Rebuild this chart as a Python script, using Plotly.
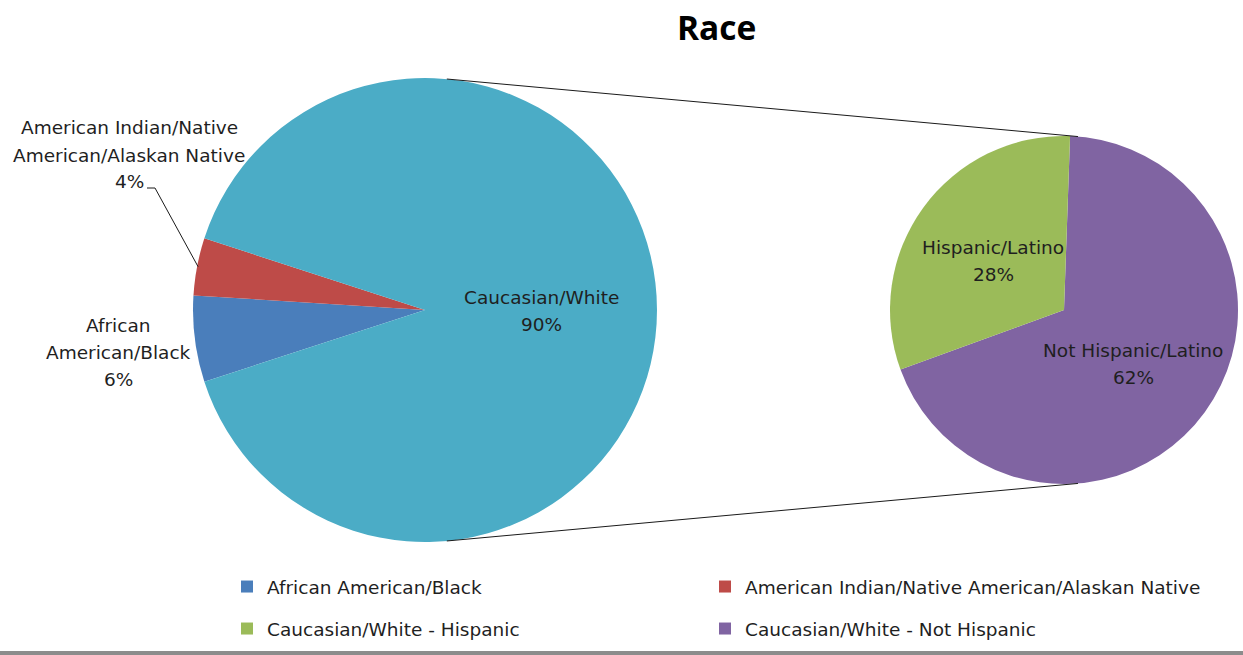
import math
import plotly.graph_objects as go

W, H = 1243, 655

# ---------------- data ----------------
main_labels = ["African American/Black",
               "American Indian/Native American/Alaskan Native",
               "Caucasian/White"]
main_values = [6, 4, 90]
main_colors = ["#4A7EBB", "#BE4B48", "#4BACC6"]

sub_labels = ["Not Hispanic/Latino", "Hispanic/Latino"]
sub_values = [62, 28]
sub_colors = ["#8064A2", "#9BBB59"]

legend_labels = ["African American/Black",
                 "American Indian/Native American/Alaskan Native",
                 "Caucasian/White - Hispanic",
                 "Caucasian/White - Not Hispanic"]
legend_colors = ["#4A7EBB", "#BE4B48", "#9BBB59", "#8064A2"]

# ---------------- geometry (pixels) ----------------
L_cx, L_cy, L_r = 425, 310, 232
R_cx, R_cy, R_r = 1064, 310, 174
FONT = "DejaVu Sans"
FS = 18.5
TXT = "#1F1F1F"
LINE_H = 27
# legend slots: (left x, center y) in pixels
legend_slots = [(227, 587), (705, 587), (227, 629), (705, 629)]


def px(x):
    return x / W


def py(y):
    return 1 - y / H


def dom(cx, cy, r):
    return dict(x=[px(cx - r), px(cx + r)], y=[py(cy + r), py(cy - r)])


total = sum(main_values)
small_share = sum(main_values[:2]) / total
main_rot = 270 - small_share * 360 / 2

fig = go.Figure()
fig.add_trace(go.Pie(
    labels=main_labels, values=main_values, sort=False, direction="clockwise",
    rotation=main_rot, marker=dict(colors=main_colors, line=dict(width=0)),
    textinfo="none", showlegend=False, domain=dom(L_cx, L_cy, L_r),
    hoverinfo="label+value"))
fig.add_trace(go.Pie(
    labels=sub_labels, values=sub_values, sort=False, direction="clockwise",
    rotation=2, marker=dict(colors=sub_colors, line=dict(width=0)),
    textinfo="none", showlegend=False, domain=dom(R_cx, R_cy, R_r),
    hoverinfo="label+value"))

# legend entries (dummy markers), each in its own legend slot
legend_layout = {}
for i, (lab, col) in enumerate(zip(legend_labels, legend_colors)):
    lid = "legend" if i == 0 else f"legend{i + 1}"
    fig.add_trace(go.Scatter(
        x=[None], y=[None], mode="markers", name=lab,
        marker=dict(symbol="square", size=12, color=col),
        legend=lid))
    lx_, ly_ = legend_slots[i]
    legend_layout[lid] = dict(
        x=px(lx_), y=py(ly_), xanchor="left", yanchor="middle", orientation="h",
        font=dict(family=FONT, size=FS, color=TXT), bgcolor="rgba(0,0,0,0)",
        itemclick=False, itemdoubleclick=False)

# slice labels (one annotation per line for Excel-like line spacing)
pct = lambda v: f"{v / total:.0%}"
labels_pos = [
    (["American Indian/Native", "American/Alaskan Native", pct(main_values[1])], 129, 155),
    (["African", "American/Black", pct(main_values[0])], 118, 352),
    ([main_labels[2], pct(main_values[2])], 541, 311),
    ([sub_labels[1], pct(sub_values[1])], 993, 261),
    ([sub_labels[0], pct(sub_values[0])], 1133, 364),
]
annotations = [dict(text="<b>Race</b>", x=px(716), y=py(27), xref="paper", yref="paper",
                    xanchor="center", yanchor="middle", showarrow=False,
                    font=dict(family="Open Sans", size=33.5, color="#000"))]
for lines, x, y in labels_pos:
    n = len(lines)
    for k, t in enumerate(lines):
        yy = y + (k - (n - 1) / 2) * LINE_H
        annotations.append(dict(text=t, x=px(x), y=py(yy), xref="paper", yref="paper",
                                xanchor="center", yanchor="middle",
                                showarrow=False, align="center",
                                font=dict(family=FONT, size=FS, color=TXT)))


def on_circle(cx, cy, r, ang):
    a = math.radians(ang)
    return cx + r * math.sin(a), cy - r * math.cos(a)


shapes = []
# connector lines between main pie and secondary pie
for la, ra in [(5.4, 4.6), (174.6, 175.4)]:
    x0, y0 = on_circle(L_cx, L_cy, L_r, la)
    x1, y1 = on_circle(R_cx, R_cy, R_r, ra)
    shapes.append(dict(type="line", xref="paper", yref="paper",
                       x0=px(x0), y0=py(y0), x1=px(x1), y1=py(y1),
                       line=dict(color="#1A1A1A", width=1)))
# leader line for the 4% label, ending at the middle of that slice's arc
ind_mid = main_rot + (main_values[0] + main_values[1] / 2) / total * 360
lx, ly = on_circle(L_cx, L_cy, L_r - 1, ind_mid)
shapes.append(dict(type="path", xref="paper", yref="paper",
                   path=f"M {px(147)} {py(188)} L {px(155)} {py(188)} L {px(lx)} {py(ly)}",
                   line=dict(color="#1A1A1A", width=1)))
# bottom border
shapes.append(dict(type="rect", xref="paper", yref="paper", x0=0, x1=1,
                   y0=py(655), y1=py(651), fillcolor="#8C8C8C", line=dict(width=0)))

fig.update_layout(
    width=W, height=H, margin=dict(l=0, r=0, t=0, b=0, autoexpand=False),
    paper_bgcolor="white", plot_bgcolor="white",
    xaxis=dict(visible=False), yaxis=dict(visible=False),
    annotations=annotations, shapes=shapes,
    **legend_layout,
)

fig.write_html("out.html", config={"displayModeBar": False},
               post_script="document.body.style.margin='0';document.body.style.overflow='hidden';")
